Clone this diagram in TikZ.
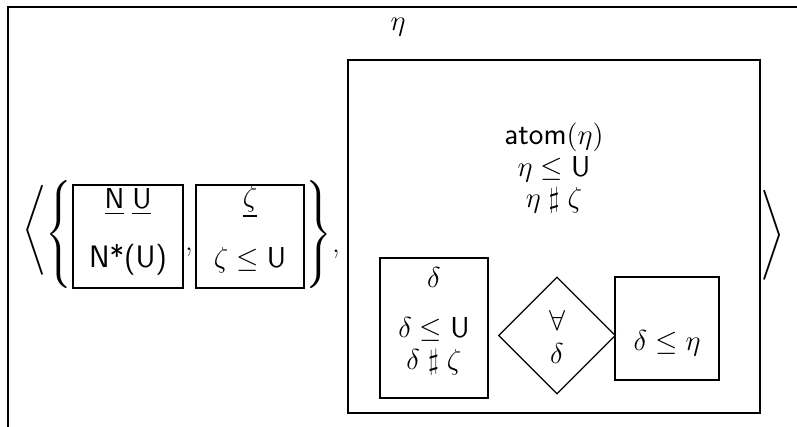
\documentclass[tikz,border=0pt]{standalone}
\usepackage{amsmath,amssymb}
\usetikzlibrary{shapes.geometric}
\tikzset{
  frm/.style={draw,inner sep=0pt},
  txt/.style={font=\fontsize{15.5}{16}\selectfont,inner sep=0pt},
  delim/.style={font=\fontsize{15}{18}\selectfont,inner sep=0pt},
}
\newcommand{\hsharp}{\mathrel{\sharp}}

\begin{document}
\begin{tikzpicture}[x=0.5pt,y=-0.5pt,line width=0.6pt]
\useasboundingbox (0,0) rectangle (797,427);
% outer frame
\coordinate (frTR) at (797,7); \coordinate (frTL) at (8,7); \coordinate (frBL) at (8,427);
\draw (frTR) -- (frTL) -- (frBL);
\node[txt] (etaTop) at (398,27) {$\eta$};
% delimiters
\node[delim] (angL) at (36,232) {$\left\langle\rule[-21pt]{0pt}{42pt}\right.$};
\node[delim] (brcL) at (60,235) {$\left\{\rule[-24pt]{0pt}{48pt}\right.$};
\node[delim] (brcR) at (318,235) {$\left.\rule[-24pt]{0pt}{48pt}\right\}$};
\node[delim] (angR) at (771,237) {$\left.\rule[-21pt]{0pt}{42pt}\right\rangle$};
\node[txt] (commaA) at (189,252) {,};
\node[txt] (commaB) at (336,254) {,};
% set members
\node[frm,minimum width=55pt,minimum height=51.5pt] (boxNU) at (128,236.5) {};
\node[txt] (nuHead) at (128,202) {$\underline{\mathsf{N}}\;\underline{\mathsf{U}}$};
\node[txt] (nuBody) at (128,260) {\textsf{N*(U)}};
\node[frm,minimum width=54pt,minimum height=51.5pt] (boxZ) at (250,236.5) {};
\node[txt] (zHead) at (250,202) {$\underline{\zeta}$};
\node[txt] (zBody) at (250,260) {$\zeta\leq\mathsf{U}$};
% eta box
\node[frm,minimum width=206pt,minimum height=176.5pt] (boxEta) at (554,236.5) {};
\node[txt,align=center] (etaBody) at (554,168)
  {\textsf{atom}$(\eta)$\\ $\eta\leq\mathsf{U}$\\ $\eta\hsharp\zeta$};
\node[frm,minimum width=54pt,minimum height=70pt] (boxD) at (434,328) {};
\node[txt] (dHead) at (434,277) {$\delta$};
\node[txt,align=center] (dBody) at (434,346) {$\delta\leq\mathsf{U}$\\ $\delta\hsharp\zeta$};
\node[frm,diamond,minimum width=58.5pt,minimum height=58.5pt] (qAll) at (557,335.5) {};
\node[txt] (qSym) at (557,320) {$\forall$};
\node[txt] (qVar) at (557,353) {$\delta$};
\node[frm,minimum width=52pt,minimum height=51.5pt] (boxDE) at (667,328.5) {};
\node[txt] (deBody) at (667,343) {$\delta\leq\eta$};
\end{tikzpicture}
\end{document}
